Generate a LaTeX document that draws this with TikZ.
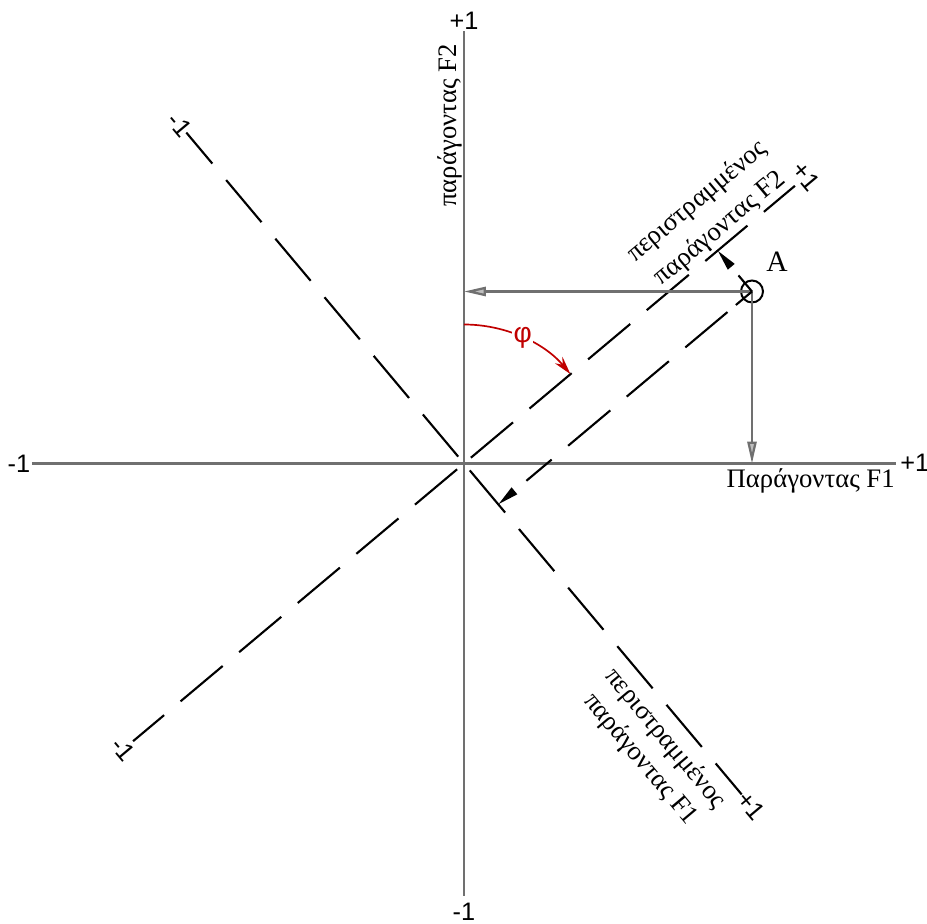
\documentclass[tikz,border=0pt]{standalone}
\usepackage{fontspec}
\setmainfont{Liberation Serif}
\newfontfamily\numfont{Liberation Sans}
\usepackage{xcolor}
\definecolor{cAxis}{HTML}{707070}
\definecolor{cPhi}{HTML}{C00000}
\usepackage{tikz}
\usetikzlibrary{arrows.meta,calc}
\tikzset{
  axis-line/.style={draw=cAxis,line width=1.6pt},
  axis-rot/.style={draw=black,line width=1.5pt,
    dash pattern=on 13.75mm off 5.375mm,dash phase=16.875mm},
  arrow-proj/.style={-{Triangle[length=15pt,width=6pt]},line width=1.5pt,draw=black},
  arrow-gray/.style={-{Triangle[length=15.5pt,width=6.5pt,fill=cAxis!45]},
    line width=1.6pt,draw=cAxis},
  arrow-phi/.style={-{Stealth[length=13pt,width=7pt]},line width=1.2pt,draw=cPhi},
  lbl-num/.style={font=\numfont\fontsize{18}{18}\selectfont,inner sep=0pt},
  lbl-txt/.style={font=\fontsize{19}{23}\selectfont,inner sep=0pt,align=center},
}

\begin{document}
\begin{tikzpicture}[x=0.25mm,y=0.25mm]
  \useasboundingbox (-464,-460.5) rectangle (463,463.5);
  \coordinate (O)  at (0,0);
  \coordinate (xL) at (-432,0);
  \coordinate (xR) at (432,0);
  \coordinate (yB) at (0,-432);
  \coordinate (yT) at (0,432);
  % original axes
  \draw[axis-line] (xL) -- (xR);
  \draw[axis-line] (yB) -- (yT);
  \node[lbl-num] (lxL) at (-445,0)  {-1};
  \node[lbl-num,anchor=west] (lxR) at (436,1) {+1};
  \node[lbl-num] (lyT) at (0,443)   {+1};
  \node[lbl-num] (lyB) at (0,-448)  {-1};
  \node[lbl-txt,anchor=base east] (tF1) at (431,-24) {Παράγοντας F1};
  \node[lbl-txt,anchor=base,rotate=90] (tF2) at (-7,338) {παράγοντας F2};
  % rotated axes
  \foreach \a/\n in {40/rF2p,130/rF1m,220/rF2m,-50/rF1p}{
    \coordinate (\n) at (\a:432);
    \draw[axis-rot] (O) -- (\n);
  }
  \node[lbl-num,rotate=-50] (lrF2p) at (40:447)  {+1};
  \node[lbl-num,rotate=-50] (lrF1m) at (130:442) {-1};
  \node[lbl-num,rotate=-50] (lrF2m) at (220:445) {-1};
  \node[lbl-num,rotate=-50] (lrF1p) at (-50:447) {+1};
  \node[lbl-txt,rotate=40,font=\fontsize{19}{25}\selectfont]
    (trF2) at (244.6,248.3) {περιστραμμένος\\παράγοντας F2};
  \node[lbl-txt,rotate=-50] (trF1) at (188.6,-285.6) {περιστραμμένος\\παράγοντας F1};
  % point A and its projections
  \coordinate (A) at (288,172);
  \coordinate (P2) at ($(O)!(A)!(rF2p)$);
  \coordinate (P1) at ($(O)!(A)!(rF1p)$);
  \draw[line width=1.4pt] (A) circle[radius=11];
  \node[font=\fontsize{21}{21}\selectfont,inner sep=0pt] (lA) at (313,202) {A};
  \draw[arrow-gray] (A) -- (O |- A);
  \draw[arrow-gray] (A) -- (A |- O);
  \draw[arrow-proj,dash pattern=on 5.25mm off 10mm] (A) -- (P2);
  \draw[arrow-proj,dash pattern=on 5.25mm off 2.75mm on 13.75mm off 5.375mm
    on 13.75mm off 5.375mm on 13.75mm off 5.375mm on 8.25mm off 10mm] (A) -- (P1);
  % angle phi
  \coordinate (phiS) at (90:139);
  \draw[arrow-phi] (phiS) arc[start angle=90,end angle=40,radius=139]
    node[pos=0.5,fill=white,inner sep=1pt,text=cPhi,
      font=\numfont\fontsize{20}{20}\selectfont] (lphi) {φ};
\end{tikzpicture}
\end{document}
